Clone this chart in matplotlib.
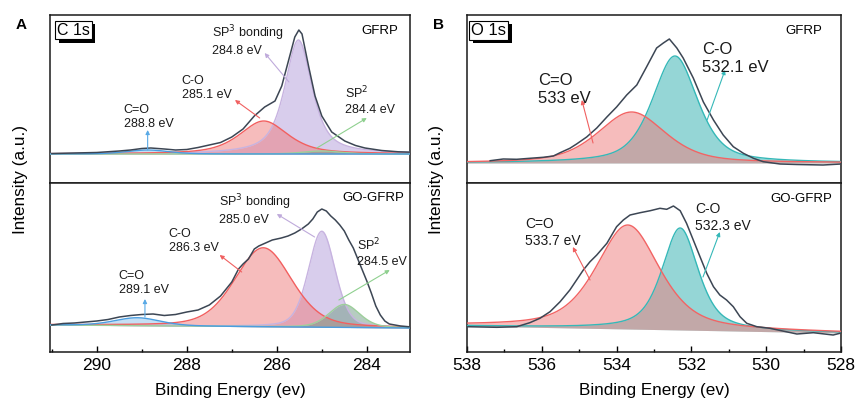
import numpy as np
import matplotlib
matplotlib.use('Agg')
import matplotlib.pyplot as plt
import matplotlib.patheffects as pe
from matplotlib.ticker import MultipleLocator

plt.rcParams['font.family'] = ['Liberation Sans', 'DejaVu Sans']

# ---- C 1s, GFRP : measured envelope (binding energy, counts above baseline)
c1s_gfrp_be = [291.0, 290.5, 290.0, 289.5, 289.25, 289.0, 288.8, 288.5, 288.25, 288.0,
               287.75, 287.5, 287.25, 287.0, 286.75, 286.5, 286.27, 286.04, 285.89, 285.73,
               285.6, 285.51, 285.44, 285.29, 285.15, 285.0, 284.78, 284.49, 284.25, 284.04,
               283.67, 283.3, 283.0]
c1s_gfrp_counts = [0.5, 1, 1.5, 3, 4, 5.5, 6, 5, 4, 4.5,
                   6.5, 9, 11.5, 17, 25, 38, 47, 53, 68, 95,
                   117, 124, 120, 87, 58, 38, 22, 13, 8.5, 6,
                   3.5, 2.2, 1.8]
# fitted components: C=O, C-O, SP3, SP2
c1s_gfrp_center = [288.87, 286.29, 285.52, 285.0]
c1s_gfrp_height = [4, 33, 114, 3]
c1s_gfrp_fwhm = [1.1, 1.27, 0.72, 1.0]
c1s_gfrp_eta = [0.3, 0.6, 0.7, 0.3]
c1s_gfrp_bg = [0, 0]
c1s_gfrp_labels = ['C=O\n288.8 eV', 'C-O\n285.1 eV', 'SP$^3$ bonding\n284.8 eV', 'SP$^2$\n284.4 eV']

# ---- C 1s, GO-GFRP
c1s_go_be = [291.0, 290.75, 290.5, 290.25, 290.0, 289.75, 289.5, 289.25, 289.0, 288.75,
             288.5, 288.25, 288.0, 287.75, 287.5, 287.25, 287.0, 286.85, 286.75, 286.63,
             286.5, 286.4, 286.25, 286.1, 285.9, 285.75, 285.6, 285.45, 285.3, 285.2,
             285.1, 285.0, 284.9, 284.8, 284.7, 284.6, 284.5, 284.4, 284.3, 284.2,
             284.1, 284.0, 283.9, 283.8, 283.7, 283.6, 283.5, 283.25, 283.0]
c1s_go_counts = [1, 2.5, 3, 4, 5, 6.5, 9, 10.5, 11.5, 12,
                 10.5, 11.5, 14, 16, 21, 30, 44, 57, 62, 67,
                 77, 80, 83, 86, 88, 90, 93, 97, 102, 107,
                 114, 117, 115, 110, 106, 101, 95, 86, 78, 67,
                 56, 45, 33, 20, 11, 5, 2, 0, -1]
c1s_go_center = [289.1, 286.3, 285.0, 284.5]
c1s_go_height = [8, 79, 96, 23]
c1s_go_fwhm = [1.2, 1.49, 0.70, 0.8]
c1s_go_eta = [0.3, 0.3, 0.3, 0.3]
c1s_go_bg = [1, -2]
c1s_go_labels = ['C=O\n289.1 eV', 'C-O\n286.3 eV', 'SP$^3$ bonding\n285.0 eV', 'SP$^2$\n284.5 eV']

# ---- O 1s, GFRP
o1s_gfrp_be = [537.38, 537.03, 536.67, 536.32, 535.96, 535.69, 535.51, 535.25, 535.07, 534.8,
               534.53, 534.26, 534.0, 533.73, 533.46, 533.2, 532.93, 532.75, 532.59, 532.39,
               532.22, 531.95, 531.68, 531.41, 531.15, 530.88, 530.61, 530.34, 530.08, 529.63,
               529.18, 528.48, 528.0]
o1s_gfrp_counts = [2.3, 4, 3.7, 4.7, 5.7, 7, 10.3, 14.7, 19, 26,
                   35, 46, 56, 68, 78, 96, 115, 120, 124, 115,
                   105, 85, 61, 43, 28, 16.3, 9.7, 4.7, 1.3, -1,
                   -1.5, -2, -1]
# fitted components: C=O, C-O
o1s_gfrp_center = [533.6, 532.44]
o1s_gfrp_height = [51, 107]
o1s_gfrp_fwhm = [2.14, 1.43]
o1s_gfrp_eta = [0.5, 0.55]
o1s_gfrp_bg = [0, 0]
o1s_gfrp_labels = ['C=O\n533 eV', 'C-O\n532.1 eV']

# ---- O 1s, GO-GFRP
o1s_go_be = [538.0, 537.2, 536.67, 536.32, 536.05, 535.78, 535.51, 535.25, 535.07, 534.89,
             534.71, 534.53, 534.26, 534.0, 533.82, 533.64, 533.37, 533.1, 532.84, 532.66,
             532.48, 532.3, 532.13, 531.95, 531.77, 531.59, 531.41, 531.24, 531.06, 530.88,
             530.7, 530.52, 530.25, 529.9, 529.18, 528.74, 528.21, 528.03]
o1s_go_counts = [3.3, 2.7, 3.3, 7.3, 11.7, 18.3, 28.3, 40, 50, 60,
                 68.3, 75, 86.7, 103.3, 110, 115, 117.3, 119.3, 121.7, 120.7,
                 124, 119.3, 106.7, 90, 73.3, 56.7, 43.3, 35, 30, 23.3,
                 13.3, 6.7, 3.3, 1.7, -4, -2.7, -5, -3.3]
o1s_go_center = [533.7, 532.3]
o1s_go_height = [104, 102]
o1s_go_fwhm = [2.0, 1.15]
o1s_go_eta = [0.55, 0.6]
o1s_go_bg = [4, -3]
o1s_go_labels = ['C=O\n533.7 eV', 'C-O\n532.3 eV']

# colours
env_color = '#3c4654'
c1s_line = ['#4a9de0', '#f25f5f', '#c7b3e0', '#9ccf9a']
c1s_fill = ['#7fb8e8', '#ef7b7b', '#b39ddb', '#6f9a84']
c1s_alpha = [0.45, 0.5, 0.5, 0.5]
c1s_arrow = ['#5aaae6', '#f06060', '#bfaadb', '#8fd08f']
o1s_line = ['#f26464', '#35b8b8']
o1s_fill = ['#ef7b7b', '#3fb5b5']
o1s_alpha = [0.5, 0.55]
o1s_arrow = ['#f06060', '#35b8b8']


def pseudo_voigt(x, c, h, w, eta):
    u = (x - c) / w
    return h * (eta / (1 + 4 * u ** 2) + (1 - eta) * np.exp(-4 * np.log(2) * u ** 2))


def draw_fit(ax, xlim, be, counts, centers, heights, widths, etas, bg, lines, fills, alphas, order):
    grid = np.linspace(xlim[0], xlim[1], 800)
    base = np.interp(grid, [xlim[1], xlim[0]], [bg[1], bg[0]])
    comps = [base + pseudo_voigt(grid, centers[i], heights[i], widths[i], etas[i]) for i in range(len(centers))]
    for i in order:
        ax.fill_between(grid, base, comps[i], color=fills[i], alpha=alphas[i], lw=0, zorder=2)
    for i in order:
        ax.plot(grid, comps[i], color=lines[i], lw=1.0, zorder=3)
    ax.plot(be, counts, color=env_color, lw=1.1, zorder=4)
    ax.set_xlim(*xlim)


def style_axes(ax, bottom):
    for s in ax.spines.values():
        s.set_linewidth(1.1)
        s.set_color('#1a1a1a')
    ax.set_yticks([])
    if bottom:
        ax.tick_params(axis='x', which='both', direction='in', top=False, labelsize=12.5, pad=4, width=1.0)
        ax.tick_params(axis='x', which='major', length=4)
        ax.tick_params(axis='x', which='minor', length=2.5)
    else:
        ax.tick_params(axis='x', which='both', bottom=False, labelbottom=False)


def annotate(ax, text, tip, tail, txt, color, size):
    ax.annotate('', xy=tail, xytext=tip,
                arrowprops=dict(arrowstyle='-|>', color=color, lw=0.8, mutation_scale=6, shrinkA=0, shrinkB=0),
                zorder=5)
    ax.text(txt[0], txt[1], text, fontsize=size, va='top', ha='left', color='#1a1a1a',
            linespacing=1.25, zorder=6)


def boxed_title(ax, s, x, y, size):
    t = ax.text(x, y, s, transform=ax.transAxes, fontsize=size, va='top', ha='left', color='black', zorder=7,
                bbox=dict(boxstyle='square,pad=0.12', fc='white', ec='black', lw=0.8))
    # drop shadow on the frame only
    t.get_bbox_patch().set_path_effects([
        pe.SimplePatchShadow(offset=(2.5, -2.5), shadow_rgbFace='black', alpha=1.0),
        pe.Normal()])


fig = plt.figure(figsize=(8.57, 3.98), dpi=100)

left_a, width_a = 50 / 857, 360 / 857
left_b, width_b = 467 / 857, 374 / 857
top_y, mid_y, bot_y = 1 - 15 / 398, 1 - 183 / 398, 1 - 352 / 398

a_top = fig.add_axes([left_a, mid_y, width_a, top_y - mid_y])
a_bot = fig.add_axes([left_a, bot_y, width_a, mid_y - bot_y])
b_top = fig.add_axes([left_b, mid_y, width_b, top_y - mid_y])
b_bot = fig.add_axes([left_b, bot_y, width_b, mid_y - bot_y])

xa = (291.04, 283.04)
xb = (538.0, 528.0)

# C 1s, GFRP
draw_fit(a_top, xa, c1s_gfrp_be, c1s_gfrp_counts, c1s_gfrp_center, c1s_gfrp_height, c1s_gfrp_fwhm,
         c1s_gfrp_eta, c1s_gfrp_bg, c1s_line, c1s_fill, c1s_alpha, [2, 1, 3, 0])
a_top.set_ylim(-29, 139)
annotate(a_top, c1s_gfrp_labels[0], (288.87, 4), (288.87, 24), (289.4, 50), c1s_arrow[0], 9)
annotate(a_top, c1s_gfrp_labels[1], (286.38, 36), (286.93, 54), (288.11, 79), c1s_arrow[1], 9)
annotate(a_top, c1s_gfrp_labels[2], (285.73, 72), (286.27, 101), (287.44, 131), c1s_arrow[2], 9)
annotate(a_top, c1s_gfrp_labels[3], (285.11, 6), (284.0, 36), (284.49, 69), c1s_arrow[3], 9)
a_top.text(283.29, 129, 'GFRP', fontsize=9.5, ha='right', va='top')
boxed_title(a_top, 'C 1s', 0.02, 0.955, 11.5)

# C 1s, GO-GFRP
draw_fit(a_bot, xa, c1s_go_be, c1s_go_counts, c1s_go_center, c1s_go_height, c1s_go_fwhm,
         c1s_go_eta, c1s_go_bg, c1s_line, c1s_fill, c1s_alpha, [2, 1, 3, 0])
a_bot.set_ylim(-26, 143)
annotate(a_bot, c1s_go_labels[0], (288.93, 9), (288.93, 27), (289.51, 56), c1s_arrow[0], 9)
annotate(a_bot, c1s_go_labels[1], (286.78, 54), (287.27, 71), (288.4, 98), c1s_arrow[1], 9)
annotate(a_bot, c1s_go_labels[2], (285.16, 89), (286.0, 112), (287.29, 134), c1s_arrow[2], 9)
annotate(a_bot, c1s_go_labels[3], (284.62, 26), (283.49, 56), (284.22, 89), c1s_arrow[3], 9)
a_bot.text(283.16, 134, 'GO-GFRP', fontsize=9.5, ha='right', va='top')

# O 1s, GFRP
draw_fit(b_top, xb, o1s_gfrp_be, o1s_gfrp_counts, o1s_gfrp_center, o1s_gfrp_height, o1s_gfrp_fwhm,
         o1s_gfrp_eta, o1s_gfrp_bg, o1s_line, o1s_fill, o1s_alpha, [1, 0])
b_top.set_ylim(-20, 148)
annotate(b_top, o1s_gfrp_labels[0], (534.63, 20), (534.93, 63), (536.1, 90), o1s_arrow[0], 12)
annotate(b_top, o1s_gfrp_labels[1], (531.58, 43), (531.1, 93), (531.72, 121), o1s_arrow[1], 12)
b_top.text(528.51, 138, 'GFRP', fontsize=9.5, ha='right', va='top')
boxed_title(b_top, 'O 1s', 0.012, 0.955, 12)

# O 1s, GO-GFRP
draw_fit(b_bot, xb, o1s_go_be, o1s_go_counts, o1s_go_center, o1s_go_height, o1s_go_fwhm,
         o1s_go_eta, o1s_go_bg, o1s_line, o1s_fill, o1s_alpha, [1, 0])
b_bot.set_ylim(-22, 147)
annotate(b_bot, o1s_go_labels[0], (534.71, 50), (535.17, 83), (536.45, 113), o1s_arrow[0], 10)
annotate(b_bot, o1s_go_labels[1], (531.69, 53), (531.24, 98), (531.9, 128), o1s_arrow[1], 10)
b_bot.text(528.24, 137, 'GO-GFRP', fontsize=9.5, ha='right', va='top')

for ax in (a_top, b_top):
    style_axes(ax, False)
for ax in (a_bot, b_bot):
    style_axes(ax, True)
a_bot.xaxis.set_major_locator(MultipleLocator(2))
a_bot.xaxis.set_minor_locator(MultipleLocator(1))
b_bot.xaxis.set_major_locator(MultipleLocator(2))
b_bot.xaxis.set_minor_locator(MultipleLocator(1))

fig.text(21 / 857, 1 - 179 / 398, 'Intensity (a.u.)', rotation=90, ha='center', va='center', fontsize=12.3)
fig.text(437 / 857, 1 - 179 / 398, 'Intensity (a.u.)', rotation=90, ha='center', va='center', fontsize=12.3)
fig.text(left_a + width_a / 2, 0.008, 'Binding Energy (ev)', ha='center', va='baseline', fontsize=12.3)
fig.text(left_b + width_b / 2, 0.008, 'Binding Energy (ev)', ha='center', va='baseline', fontsize=12.3)
fig.text(21 / 857, 1 - 25 / 398, 'A', fontsize=11, fontweight='bold', ha='center', va='center')
fig.text(439 / 857, 1 - 25 / 398, 'B', fontsize=11, fontweight='bold', ha='center', va='center')

fig.savefig('out.png', dpi=100)
